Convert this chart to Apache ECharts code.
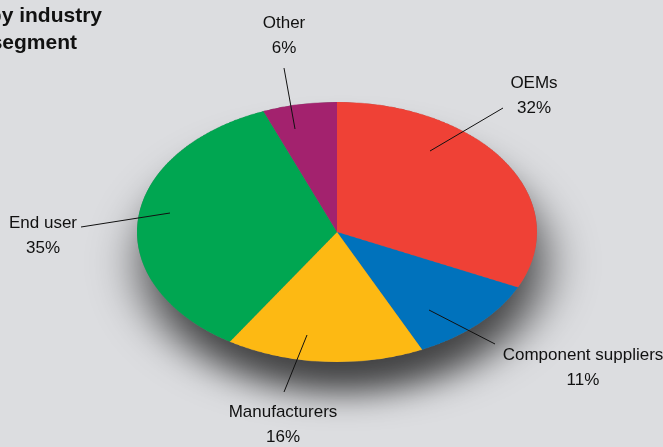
<!DOCTYPE html>
<html><head><meta charset="utf-8">
<script src="https://cdn.jsdelivr.net/npm/echarts@6/dist/echarts.min.js"></script>
<style>
html,body{margin:0;padding:0;background:#dcdde0;overflow:hidden}
#wrap{position:relative;width:663px;height:447px;overflow:hidden;}
#pie{position:absolute;left:0;top:0;width:663px;height:620px;transform:scaleY(0.65);transform-origin:0 232px;}
#lab{position:absolute;left:0;top:0;width:663px;height:447px;}
</style></head><body>
<div id="wrap"><div id="pie"></div><div id="lab"></div></div>
<script>
// ---- data ----
const categories = ['OEMs', 'Component suppliers', 'Manufacturers', 'End user', 'Other'];
const values = [32, 11, 16, 35, 6];
const titleLines = ['by industry', 'segment'];

// ---- styles / layout ----
const colors = ['#ef4136', '#0072bc', '#fdb913', '#00a651', '#a3226e'];
const labelPos = [[534, 96], [583, 368], [283, 425], [43, 236], [284, 36]];
const leaderLines = [
  [[503, 108], [430, 151]],
  [[495, 344], [429, 310]],
  [[284, 392], [307, 335]],
  [[81, 227], [170, 213]],
  [[284, 68], [295, 129]]
];
const FONT = "'Liberation Sans',Arial,sans-serif";
const center = [337, 232];
const radius = 200;

const pieData = categories.map((c, i) => ({ name: c, value: values[i], itemStyle: { color: colors[i] } }));

// Pie drawn in a vertically-squashed container to get the elliptical look
const pieChart = echarts.init(document.getElementById('pie'), null, { renderer: 'canvas' });
pieChart.setOption({
  animation: false,
  series: [
    {
      type: 'pie', silent: true, z: 1,
      center: center, radius: radius, startAngle: 90, clockwise: true,
      label: { show: false }, labelLine: { show: false },
      data: [{ name: 'shadow', value: 1, itemStyle: { color: '#777',
        shadowColor: 'rgba(0,0,0,0.7)', shadowBlur: 50, shadowOffsetX: 6, shadowOffsetY: 48 } }]
    },
    {
      type: 'pie', silent: true, z: 2,
      center: center, radius: radius, startAngle: 90, clockwise: true,
      label: { show: false }, labelLine: { show: false },
      itemStyle: { borderWidth: 0 },
      data: pieData
    }
  ]
});

// Labels in an unscaled overlay
const labChart = echarts.init(document.getElementById('lab'), null, { renderer: 'canvas' });
labChart.setOption({
  animation: false,
  graphic: [
    { type: 'text', right: 663 - 102, top: 6, style: { text: titleLines[0], font: "bold 21px " + FONT, fill: '#111', textAlign: 'right' } },
    { type: 'text', right: 663 - 77, top: 33, style: { text: titleLines[1], font: "bold 21px " + FONT, fill: '#111', textAlign: 'right' } }
  ],
  series: [{
    type: 'pie', silent: true,
    center: center, radius: radius, startAngle: 90, clockwise: true,
    itemStyle: { color: 'rgba(0,0,0,0)' },
    label: {
      show: true, position: 'outside', formatter: '{b}\n{c}%', overflow: 'none',
      fontFamily: FONT, fontSize: 17, lineHeight: 25, color: '#111', align: 'center'
    },
    labelLine: { show: true, lineStyle: { color: '#111', width: 1 } },
    labelLayout: function (p) {
      const i = p.dataIndex;
      const l = leaderLines[i];
      return {
        x: labelPos[i][0], y: labelPos[i][1], align: 'center', verticalAlign: 'middle',
        labelLinePoints: [l[0], l[0], l[1]]
      };
    },
    data: categories.map((c, i) => ({ name: c, value: values[i] }))
  }]
});
</script>
</body></html>
